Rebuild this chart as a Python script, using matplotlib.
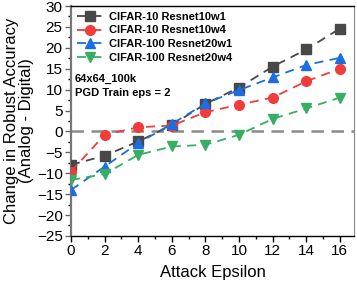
import matplotlib
matplotlib.use("Agg")
import matplotlib.pyplot as plt
from matplotlib.ticker import MultipleLocator

plt.rcParams['font.family'] = ['Liberation Sans', 'DejaVu Sans']

eps = [0, 2, 4, 6, 8, 10, 12, 14, 16]
labels = ["CIFAR-10 Resnet10w1", "CIFAR-10 Resnet10w4",
          "CIFAR-100 Resnet20w1", "CIFAR-100 Resnet20w4"]
r10w1 = [-8.0, -5.8, -2.4, 1.5, 6.6, 10.5, 15.5, 19.6, 24.6]
r10w4 = [-9.6, -0.8, 1.0, 1.4, 4.6, 6.4, 8.1, 12.0, 15.0]
r20w1 = [-14.0, -8.4, -2.8, 1.8, 6.7, 9.9, 12.9, 15.9, 17.6]
r20w4 = [-11.6, -10.2, -5.6, -3.6, -3.2, -0.8, 3.0, 5.5, 8.1]
series = [r10w1, r10w4, r20w1, r20w4]
colors = ["#484848", "#F03C3C", "#1A6EE0", "#38AE62"]
markers = ["s", "o", "^", "v"]

fig = plt.figure(figsize=(3.57, 2.86), dpi=100)
ax = fig.add_axes([0.199, 0.175, 0.793, 0.804])

ax.axhline(0, color="#8a8a8a", lw=1.8, ls=(0, (5, 3)), zorder=1)
for vals, c, m, lab in zip(series, colors, markers, labels):
    ax.plot(eps, vals, color=c, marker=m, ms=7, lw=1.3,
            ls=(0, (5, 3.5)), label=lab, zorder=3)

ax.set_xlim(0, 16.85)
ax.set_ylim(-25, 30)
ax.xaxis.set_major_locator(MultipleLocator(2))
ax.xaxis.set_minor_locator(MultipleLocator(1))
ax.yaxis.set_major_locator(MultipleLocator(5))
ax.yaxis.set_minor_locator(MultipleLocator(2.5))
ax.tick_params(which="major", direction="out", length=4, width=1,
               labelsize=11, pad=2)
ax.tick_params(which="minor", direction="out", length=2.5, width=1)
ax.tick_params(axis="y", colors="#666666", labelcolor="black")

ax.spines["left"].set_color("#777777")
ax.spines["left"].set_linewidth(1.6)
ax.spines["right"].set_color("#888888")
ax.spines["top"].set_linewidth(1.0)
ax.spines["bottom"].set_linewidth(1.0)

ax.set_xlabel("Attack Epsilon", fontsize=12, labelpad=5)
ax.set_ylabel("Change in Robust Accuracy\n(Analog - Digital)", fontsize=12,
              labelpad=2, linespacing=1.0)

leg = ax.legend(loc="upper left", frameon=False,
                prop={"weight": "bold", "size": 8},
                handlelength=2.4, handletextpad=0.5, labelspacing=0.35,
                borderaxespad=0.1, bbox_to_anchor=(0.0, 1.0))

ax.text(0.014, 0.682, "64x64_100k", transform=ax.transAxes,
        fontsize=8, fontweight="bold", va="center")
ax.text(0.014, 0.622, "PGD Train eps = 2", transform=ax.transAxes,
        fontsize=8, fontweight="bold", va="center")

fig.savefig("out.png", dpi=100)
